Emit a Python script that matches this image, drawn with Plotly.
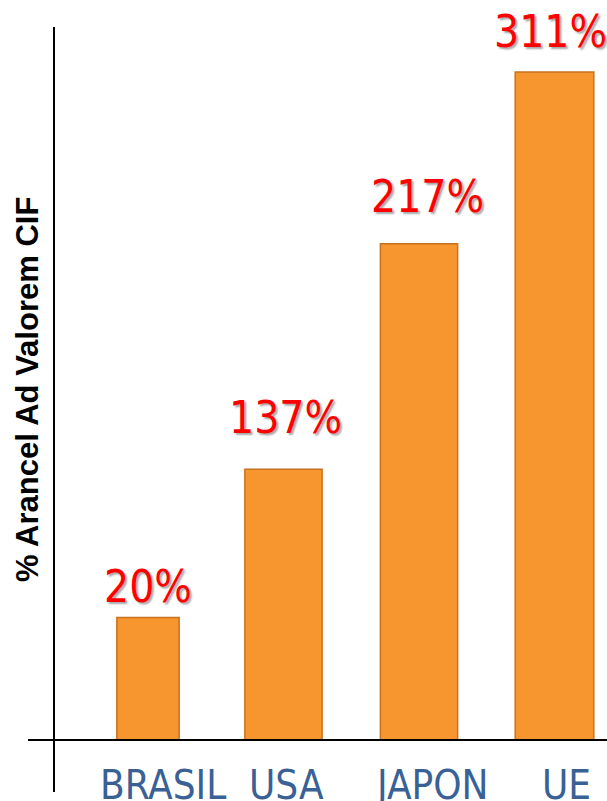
import plotly.graph_objects as go

# Data
countries = ["BRASIL", "USA", "JAPON", "UE"]
tariff_labels = ["20%", "137%", "217%", "311%"]
# bar heights as drawn in the picture (scaled so UE = 311)
bar_heights = [57, 126, 231, 311]

bar_widths = [0.46, 0.57, 0.57, 0.58]
value_xshift = [0, 2, 8, -4]
value_yshift = [4, 24, 20, 13]
tick_xshift = [15, 3, 12, 12]

W, H = 607, 801
ml, mr, mt, mb = 55, 0, 27, 9
pw, ph = W - ml - mr, H - mt - mb

NARROW = "DejaVu Sans Condensed, Liberation Sans Narrow, Arial Narrow, sans-serif"

fig = go.Figure()
fig.add_trace(go.Bar(
    x=countries, y=bar_heights, width=bar_widths,
    marker=dict(color="#F7952F", line=dict(color="#C8711F", width=1.5)),
    hoverinfo="skip",
))

annotations = []
for c, lab, h, xs, ys in zip(countries, tariff_labels, bar_heights, value_xshift, value_yshift):
    annotations.append(dict(
        x=c, y=h, xref="x", yref="y", text=lab, showarrow=False,
        yanchor="bottom", xanchor="center", xshift=xs, yshift=ys,
        font=dict(family=NARROW, size=44,
                  color="#FF0000", shadow="2px 2px 2px rgba(0,0,0,0.35)"),
    ))
for c, xs in zip(countries, tick_xshift):
    annotations.append(dict(
        x=c, y=(792 - 785) / ph,
        xref="x", yref="paper", text=c, showarrow=False,
        yanchor="middle", xanchor="center", xshift=xs,
        font=dict(family=NARROW, size=40, color="#3A6195"),
    ))
annotations.append(dict(
    x=(27 - ml) / pw, y=(792 - 390) / ph, xref="paper", yref="paper",
    text="<b>% Arancel Ad Valorem CIF</b>", showarrow=False, textangle=-90,
    xanchor="center", yanchor="middle",
    font=dict(family="Liberation Sans, Arial, sans-serif", size=31, color="#000000"),
))

px_per_unit = 668 / 311
fig.update_layout(
    width=W, height=H,
    margin=dict(l=ml, r=mr, t=mt, b=mb),
    paper_bgcolor="white", plot_bgcolor="white",
    showlegend=False,
    xaxis=dict(range=[-(148 - ml) / 135.5, (W - 148) / 135.5], showticklabels=False,
               showgrid=False, zeroline=False, showline=False, ticks=""),
    yaxis=dict(range=[-(792 - 740) / px_per_unit, (740 - 27) / px_per_unit],
               showticklabels=False, showgrid=False, zeroline=False,
               showline=True, linecolor="black", linewidth=2, ticks=""),
    annotations=annotations,
    shapes=[dict(type="line", xref="paper", yref="y", x0=(28 - ml) / pw, x1=1, y0=0, y1=0,
                 line=dict(color="black", width=2), layer="above")],
)

fig.write_html("out.html", config={"displayModeBar": False},
               post_script="document.body.style.margin='0';document.body.style.overflow='hidden';")
